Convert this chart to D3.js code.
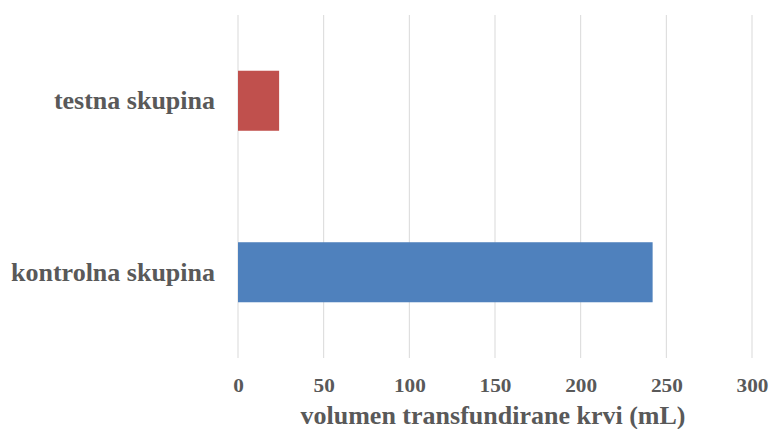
<!DOCTYPE html>
<html>
<head>
<meta charset="utf-8">
<script src="https://cdn.jsdelivr.net/npm/d3@7"></script>
<style>
  html, body { margin: 0; padding: 0; background: #fff; }
  svg { display: block; }
  text { font-family: "Liberation Serif", "Times New Roman", serif; font-weight: bold; fill: #595959; }
</style>
</head>
<body>
<svg id="chart" width="769" height="429"></svg>
<script>
// Transfused blood volume per group (mL)
const categories = ["testna skupina", "kontrolna skupina"];
const values = [24, 242];
const colors = ["#C0504D", "#4F81BD"];
const xTicks = [0, 50, 100, 150, 200, 250, 300];
const xTitle = "volumen transfundirane krvi (mL)";

const svg = d3.select("#chart");
const margin = { left: 238, right: 17, top: 15, bottom: 71 };
const W = 769, H = 429;

const x = d3.scaleLinear().domain([0, 300]).range([margin.left, W - margin.right]);
const y = d3.scaleBand().domain(categories)
  .range([margin.top, H - margin.bottom])
  .paddingInner(0.65).paddingOuter(0.325);

// vertical gridlines
svg.append("g")
  .selectAll("line")
  .data(xTicks)
  .join("line")
  .attr("x1", d => x(d)).attr("x2", d => x(d))
  .attr("y1", margin.top).attr("y2", H - margin.bottom)
  .attr("stroke", "#D9D9D9").attr("stroke-width", 1);

// bars
svg.append("g")
  .selectAll("rect")
  .data(categories)
  .join("rect")
  .attr("x", x(0))
  .attr("y", d => y(d))
  .attr("width", (d, i) => x(values[i]) - x(0))
  .attr("height", y.bandwidth())
  .attr("fill", (d, i) => colors[i]);

// x axis labels
const xAxis = svg.append("g")
  .attr("transform", `translate(0,${H - margin.bottom})`)
  .call(d3.axisBottom(x).tickValues(xTicks).tickSize(0));
xAxis.select(".domain").remove();
xAxis.selectAll("text")
  .attr("y", 34).attr("dy", 0)
  .attr("transform", "scale(1.12,1)")
  .style("font-family", "'Liberation Serif', 'Times New Roman', serif")
  .style("font-size", "19px");

// y axis labels
const yAxis = svg.append("g")
  .attr("transform", `translate(${margin.left},0)`)
  .call(d3.axisLeft(y).tickSize(0).tickPadding(23));
yAxis.select(".domain").remove();
yAxis.selectAll("text")
  .style("font-family", "'Liberation Serif', 'Times New Roman', serif")
  .style("font-size", "26px").attr("dy", "0.32em");

// x axis title
svg.append("text")
  .attr("x", 493)
  .attr("y", 424)
  .attr("text-anchor", "middle")
  .style("font-size", "26px")
  .text(xTitle);
</script>
</body>
</html>
